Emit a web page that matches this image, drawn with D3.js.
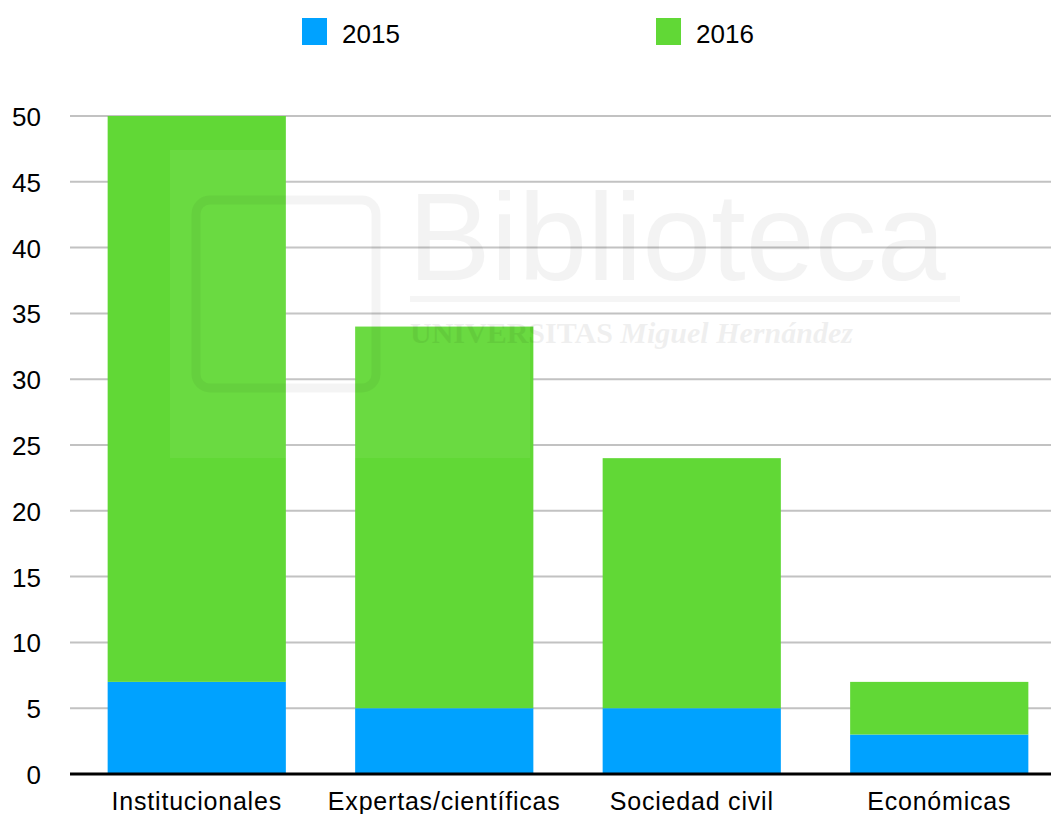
<!DOCTYPE html>
<html>
<head>
    <meta charset="utf-8">
    <title>Stacked bars 2015 / 2016</title>
    <script src="https://d3js.org/d3.v7.min.js"></script>
    <style>
        body { margin: 0; background: #fff; }
        text { font-family: "Liberation Sans", Helvetica, Arial, sans-serif; fill: #000; }
    </style>
</head>
<body>
    <div id="chart"></div>
    <script>
        const categories = ["Institucionales", "Expertas/científicas", "Sociedad civil", "Económicas"];
        const years = ["2015", "2016"];
        const values2015 = [7, 5, 5, 3];
        const values2016 = [43, 29, 19, 4];
        const yTicks = [0, 5, 10, 15, 20, 25, 30, 35, 40, 45, 50];
        const colors = ["#00a2ff", "#61d836"];

        const width = 1051, height = 814;
        const svg = d3.select("#chart").append("svg")
            .attr("width", width)
            .attr("height", height);

        const y = d3.scaleLinear().domain([0, 50]).range([774, 116]);
        const x = d3.scaleBand().domain(categories)
            .range([73, 1063])
            .paddingInner(0.28)
            .paddingOuter(0.14);

        // grid lines
        svg.selectAll("line.grid")
            .data(yTicks.filter(d => d > 0))
            .enter()
            .append("line")
            .attr("class", "grid")
            .attr("x1", 70)
            .attr("x2", width)
            .attr("y1", d => y(d))
            .attr("y2", d => y(d))
            .attr("stroke", "#c2c2c2")
            .attr("stroke-width", 2);

        // y labels
        svg.selectAll("text.ytick")
            .data(yTicks)
            .enter()
            .append("text")
            .attr("class", "ytick")
            .attr("x", 41)
            .attr("y", d => y(d) + 10)
            .attr("text-anchor", "end")
            .style("font-size", "26px")
            .text(d => d);

        // stacked data
        const rows = categories.map((c, i) => ({ cat: c, "2015": values2015[i], "2016": values2016[i] }));
        const stacked = d3.stack().keys(years)(rows);

        svg.selectAll("g.series")
            .data(stacked)
            .enter()
            .append("g")
            .attr("fill", (d, i) => colors[i])
            .selectAll("rect")
            .data(d => d)
            .enter()
            .append("rect")
            .attr("x", d => x(d.data.cat))
            .attr("width", x.bandwidth())
            .attr("y", d => y(d[1]))
            .attr("height", d => y(d[0]) - y(d[1]));

        // baseline
        svg.append("line")
            .attr("x1", 70)
            .attr("x2", width)
            .attr("y1", y(0))
            .attr("y2", y(0))
            .attr("stroke", "#000")
            .attr("stroke-width", 3);

        // category labels
        svg.selectAll("text.cat")
            .data(categories)
            .enter()
            .append("text")
            .attr("class", "cat")
            .attr("x", d => x(d) + x.bandwidth() / 2)
            .attr("y", 810)
            .attr("text-anchor", "middle")
            .style("font-size", "25px")
            .style("letter-spacing", "0.8px")
            .text(d => d);

        // legend
        const legendX = [302, 656];
        const legend = svg.selectAll("g.legend")
            .data(years)
            .enter()
            .append("g")
            .attr("transform", (d, i) => `translate(${legendX[i]},18)`);
        legend.append("rect")
            .attr("width", 25)
            .attr("height", 27)
            .attr("fill", (d, i) => colors[i]);
        legend.append("text")
            .attr("x", 40)
            .attr("y", 25)
            .style("font-size", "26px")
            .text(d => d);

        // faint watermark
        const wm = svg.append("g").attr("pointer-events", "none");
        wm.append("rect")
            .attr("x", 170).attr("y", 150).attr("width", 360).attr("height", 308)
            .attr("fill", "#fff").attr("opacity", 0.06);
        wm.append("rect")
            .attr("x", 196).attr("y", 200).attr("width", 180).attr("height", 188)
            .attr("rx", 14)
            .attr("fill", "none").attr("stroke", "#000").attr("stroke-width", 9).attr("opacity", 0.045);
        wm.append("text")
            .attr("x", 408).attr("y", 280)
            .style("font-size", "124px")
            .style("fill", "#000").attr("opacity", 0.045)
            .text("Biblioteca");
        wm.append("rect")
            .attr("x", 410).attr("y", 296).attr("width", 550).attr("height", 6)
            .attr("fill", "#000").attr("opacity", 0.04);
        wm.append("text")
            .attr("x", 410).attr("y", 343)
            .style("font-family", "'Liberation Serif', serif")
            .style("font-weight", "bold")
            .style("font-size", "30px")
            .style("fill", "#000").attr("opacity", 0.06)
            .text("UNIVERSITAS ")
            .append("tspan")
            .style("font-style", "italic")
            .text("Miguel Hernández");
    </script>
</body>
</html>
